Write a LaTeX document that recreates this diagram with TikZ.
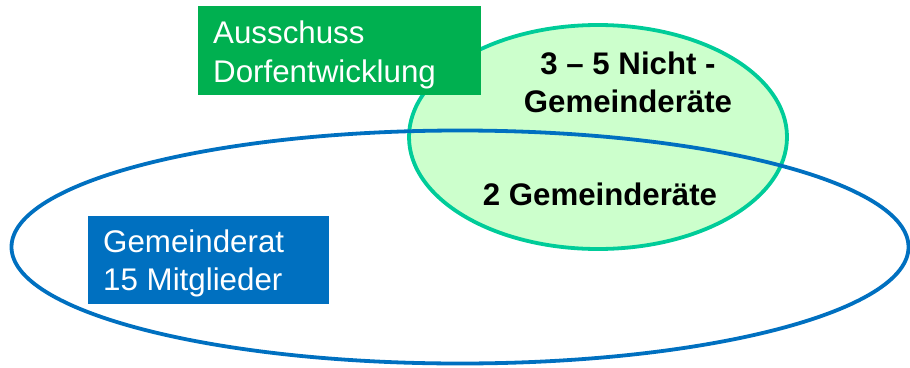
\documentclass[tikz,border=0pt]{standalone}
\usepackage{fontspec}
\setmainfont{Liberation Sans}
\usetikzlibrary{shapes.geometric}
\definecolor{boxgreen}{HTML}{00B050}
\definecolor{ringgreen}{HTML}{00CC99}
\definecolor{fillgreen}{HTML}{CCFFCC}
\definecolor{ringblue}{HTML}{0070C0}
\begin{document}
\begin{tikzpicture}[x=1pt,y=-1pt,
  ring/.style={ellipse, draw, line width=3.8pt, inner sep=0pt},
  labelbox/.style={rectangle, inner sep=0pt, anchor=north west},
  boxtext/.style={text=white, anchor=base west, inner sep=0pt, font=\fontsize{31.3}{38}\selectfont},
  boldtext/.style={text=black, anchor=base, inner sep=0pt, font=\fontsize{31.2}{37}\selectfont\bfseries}]
\useasboundingbox (0,0) rectangle (910,367);
% Ausschuss ellipse
\node[ring, draw=ringgreen, fill=fillgreen, minimum width=378pt, minimum height=224pt] (aus) at (598,137) {};
% Gemeinderat ellipse
\node[ring, draw=ringblue, minimum width=897pt, minimum height=233pt] (gr) at (460,247) {};
% label boxes
\node[labelbox, fill=boxgreen, minimum width=283pt, minimum height=89pt] (ausbox) at (198,6) {};
\node[labelbox, fill=ringblue, minimum width=241pt, minimum height=88pt] (grbox) at (88,216) {};
% box texts
\node[boxtext] (ausl1) at (213,43) {Ausschuss};
\node[boxtext] (ausl2) at (213,82) {Dorfentwicklung};
\node[boxtext] (grl1) at (103,252) {Gemeinderat};
\node[boxtext] (grl2) at (103,290) {15 Mitglieder};
% ellipse texts
\node[boldtext] (nicht1) at (628,74) {3 – 5 Nicht -};
\node[boldtext] (nicht2) at (628,112) {Gemeinderäte};
\node[boldtext] (zwei) at (600,205) {2 Gemeinderäte};
\end{tikzpicture}
\end{document}
